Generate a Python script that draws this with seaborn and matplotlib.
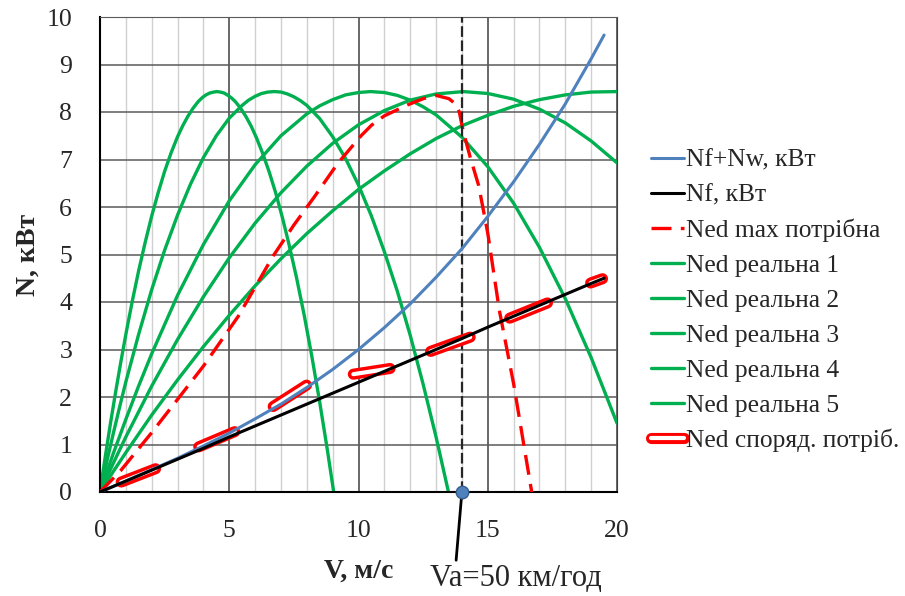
import numpy as np
import matplotlib
matplotlib.use("Agg")
import matplotlib.pyplot as plt
import matplotlib.patheffects as pe
import seaborn as sns

# Nf+Nw (blue) and Nf (black), read at whole speeds
v_res = [0, 1, 2, 3, 4, 5, 6, 7, 8, 9, 10, 11, 12, 13, 14, 15, 16, 17, 18, 19, 19.5]
n_total = [0, 0.23, 0.47, 0.71, 0.97, 1.24, 1.54, 1.85, 2.2, 2.58, 3.0, 3.46, 3.96, 4.52,
           5.12, 5.8, 6.53, 7.32, 8.17, 9.12, 9.62]
n_f = [0, 0.23, 0.46, 0.69, 0.92, 1.16, 1.39, 1.62, 1.85, 2.08, 2.31, 2.54, 2.77, 3.0,
       3.23, 3.47, 3.7, 3.93, 4.16, 4.39, 4.5]

# Ned max потрібна (red dashed)
v_max = [0, 0.8, 2, 3, 4, 5.35, 6.7, 7.5, 8.3, 9.2, 10.1, 10.5, 11.0, 11.9, 12.5, 13.0,
         13.5, 13.75, 13.9, 14.05, 14.33, 14.65, 15.0, 15.45, 16.0, 16.7]
n_max = [0, 0.45, 1.25, 1.95, 2.65, 3.7, 4.97, 5.62, 6.22, 6.92, 7.5, 7.72, 7.92, 8.15,
         8.28, 8.35, 8.28, 8.17, 8.0, 7.6, 7.03, 6.45, 5.45, 3.82, 2.28, 0.0]

# Ned реальна 1..5 (green)
v_g1 = [0, 0.2, 0.4, 0.6, 0.8, 1.0, 1.25, 1.5, 1.75, 2.0, 2.25, 2.5, 2.75, 3.0, 3.2, 3.4,
        3.6, 3.8, 3.95, 4.1, 4.25, 4.4, 4.52, 4.65, 4.8, 4.95, 5.1, 5.25, 5.45, 5.65, 5.85,
        6.05, 6.3, 6.55, 6.8, 7.05, 7.3, 7.6, 7.9, 8.2, 8.5, 8.8, 9.04]
n_g1 = [0, 0.73, 1.43, 2.09, 2.72, 3.32, 4.02, 4.67, 5.26, 5.81, 6.3, 6.75, 7.14, 7.48,
        7.71, 7.91, 8.08, 8.22, 8.3, 8.36, 8.4, 8.42, 8.43, 8.42, 8.4, 8.35, 8.29, 8.21,
        8.07, 7.9, 7.7, 7.46, 7.12, 6.73, 6.29, 5.79, 5.24, 4.52, 3.72, 2.84, 1.89, 0.87, 0]
v_g2 = [0, 0.25, 0.5, 0.75, 1, 1.5, 2, 2.5, 3, 3.5, 4, 4.5, 5, 5.5, 5.75, 6, 6.25, 6.5,
        6.74, 7, 7.25, 7.5, 7.75, 8, 8.5, 9, 9.5, 10, 10.5, 11, 11.5, 12, 12.5, 13, 13.48]
n_g2 = [0, 0.61, 1.2, 1.77, 2.32, 3.33, 4.26, 5.09, 5.83, 6.48, 7.04, 7.5, 7.87, 8.14,
        8.25, 8.33, 8.39, 8.42, 8.43, 8.42, 8.38, 8.32, 8.24, 8.14, 7.86, 7.48, 7.02, 6.46,
        5.81, 5.06, 4.23, 3.3, 2.27, 1.16, 0]
v_g3 = [0, 0.5, 1, 1.5, 2, 3, 4, 5, 6, 7, 8, 8.5, 9, 9.5, 10, 10.47, 11, 11.5, 12, 12.5,
        13, 14, 15, 16, 17, 18, 19, 20]
n_g3 = [0, 0.79, 1.53, 2.24, 2.91, 4.14, 5.21, 6.13, 6.89, 7.5, 7.96, 8.13, 8.26, 8.36,
        8.41, 8.43, 8.41, 8.35, 8.25, 8.11, 7.94, 7.47, 6.85, 6.08, 5.15, 4.07, 2.83, 1.45]
v_g4 = [0, 0.5, 1, 2, 3, 4, 5, 6, 7, 8, 9, 10, 11, 12, 13, 14.06, 15, 16, 17, 18, 19, 20]
n_g4 = [0, 0.59, 1.16, 2.23, 3.21, 4.11, 4.93, 5.66, 6.3, 6.86, 7.34, 7.73, 8.03, 8.25,
        8.38, 8.43, 8.39, 8.27, 8.06, 7.77, 7.39, 6.93]
v_g5 = [0, 0.5, 1, 2, 3, 4, 5, 6, 7, 8, 9, 10, 11, 12, 13, 14, 15, 16, 17, 18, 19, 20]
n_g5 = [0, 0.42, 0.83, 1.62, 2.36, 3.06, 3.72, 4.34, 4.91, 5.44, 5.92, 6.37, 6.76, 7.12,
        7.44, 7.71, 7.93, 8.12, 8.26, 8.36, 8.42, 8.43]

# Ned споряд. потріб. (outlined red pieces, NaN = gap)
v_sp = [0.82, 2.15, np.nan, 3.82, 5.21, np.nan, 6.7, 7.99, np.nan, 9.8, 11.22, np.nan,
        12.79, 14.32, np.nan, 15.85, 17.31, np.nan, 18.98, 19.44]
n_sp = [0.21, 0.49, np.nan, 0.95, 1.27, np.nan, 1.8, 2.25, np.nan, 2.48, 2.6, np.nan,
        2.96, 3.26, np.nan, 3.66, 3.98, np.nan, 4.4, 4.49]

va = 14.0  # Va = 50 km/h marker position as drawn

green_sets = [(v_g1, n_g1), (v_g2, n_g2), (v_g3, n_g3), (v_g4, n_g4), (v_g5, n_g5)]

sns.set_style("white")
plt.rcParams["font.family"] = ["Liberation Serif", "DejaVu Serif"]

fig = plt.figure(figsize=(9.05, 5.96), dpi=100)
ax = fig.add_axes([100 / 905, 1 - 492 / 596, 517 / 905, 475 / 596])

sns.lineplot(x=v_res, y=n_total, ax=ax, color="#4F81BD", lw=2.2, label="Nf+Nw, кВт",
             estimator=None, sort=False, zorder=5)
sns.lineplot(x=v_res, y=n_f, ax=ax, color="black", lw=2.2, label="Nf, кВт",
             estimator=None, sort=False, zorder=5.5)
sns.lineplot(x=v_max, y=n_max, ax=ax, color="#FF0000", lw=2.4, linestyle=(0, (6, 2.8)),
             label="Ned max потрібна", estimator=None, sort=False, zorder=3)
for i, (vg, ng) in enumerate(green_sets, start=1):
    sns.lineplot(x=vg, y=ng, ax=ax, color="#00B050", lw=2.4, label=f"Ned реальна {i}",
                 estimator=None, sort=False, zorder=2.5)
ax.plot(v_sp, n_sp, color="white", lw=3, solid_capstyle="round", zorder=4,
        path_effects=[pe.withStroke(linewidth=8, foreground="#FF0000")],
        label="Ned споряд. потріб.")

ax.axvline(va, color="#262626", lw=1.6, ls=(0, (4.8, 1.6)), zorder=3.5)
ax.plot([va], [0], "o", ms=9, color="#4F81BD", mec="#385D8A", clip_on=False, zorder=7)
ax.annotate("Va=50 км/год", xy=(va, 0), xytext=(516 / 905, 1 - 578 / 596),
            textcoords="figure fraction", ha="center", va="center", fontsize=22,
            arrowprops=dict(arrowstyle="-", color="black", lw=2, relpos=(0.15, 1.0),
                            shrinkA=0, shrinkB=4))

ax.set_xlim(0, 20)
ax.set_ylim(0, 10)
ax.set_xticks(range(0, 21, 5))
ax.set_xticks(range(0, 21), minor=True)
ax.set_yticks(range(0, 11))
ax.grid(which="major", axis="x", color="#404040", lw=1.1)
ax.grid(which="minor", axis="x", color="#D0D0D0", lw=1.0)
ax.grid(which="major", axis="y", color="#5A5A5A", lw=1.1)
ax.set_axisbelow(True)
ax.tick_params(which="both", length=0, labelsize=18.5, pad=20)
for side in ["left", "bottom"]:
    ax.spines[side].set_color("black")
    ax.spines[side].set_linewidth(1.5)
ax.spines["top"].set_color("#5A5A5A")
ax.spines["right"].set_color("#404040")

ax.set_xlabel("V, м/с", fontsize=20, fontweight="bold", labelpad=12)
ax.set_ylabel("N, кВт", fontsize=20, fontweight="bold", labelpad=4)

ax.legend(loc="upper left", bbox_to_anchor=(638 / 905, 1 - 136 / 596),
          bbox_transform=fig.transFigure, frameon=False, fontsize=18.4,
          handlelength=1.3, handletextpad=0.08, labelspacing=0.47, borderpad=0)

fig.savefig("out.png", dpi=100)
